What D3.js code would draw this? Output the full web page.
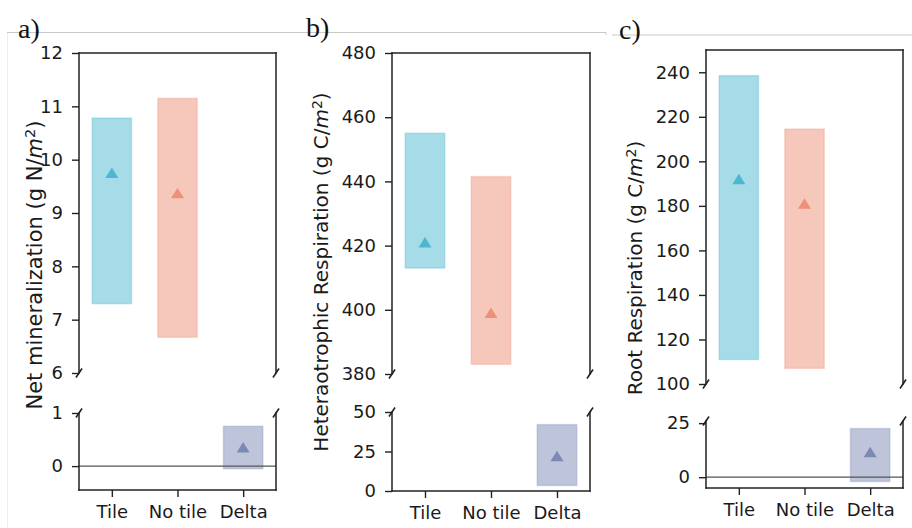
<!DOCTYPE html>
<html>
<head>
<meta charset="utf-8">
<script src="https://cdn.jsdelivr.net/npm/d3@7"></script>
<style>
    body { margin: 0; background: #fff; }
    svg { display: block; font-family: "DejaVu Sans", sans-serif; }
</style>
</head>
<body>
<svg id="chart" width="912" height="528"></svg>
<script>
const categories = ["Tile", "No tile", "Delta"];
const colors = ["#4db7d1", "#ed9179", "#7d89b5"];

// a) net mineralization
const minLow = [7.3, 6.67, -0.05];
const minHigh = [10.78, 11.15, 0.75];
const minMean = [9.75, 9.37, 0.35];
const minTopTicks = [6, 7, 8, 9, 10, 11, 12];
const minBottomTicks = [0, 1];

// b) heterotrophic respiration
const hetLow = [413, 383, 3.5];
const hetHigh = [455, 441.5, 42];
const hetMean = [421, 399, 22];
const hetTopTicks = [380, 400, 420, 440, 460, 480];
const hetBottomTicks = [0, 25, 50];

// c) root respiration
const rootLow = [111, 107, -2];
const rootHigh = [238.5, 214.5, 22.5];
const rootMean = [192, 181, 11.5];
const rootTopTicks = [100, 120, 140, 160, 180, 200, 220, 240];
const rootBottomTicks = [0, 25];

const panels = [
    { letter: "a)", letterX: 18, letterY: 38, left: 79, right: 276,
      top: [53, 373], topDomain: [6, 12], bottom: [413, 490], bottomDomain: [-0.45, 1],
      low: minLow, high: minHigh, mean: minMean, topTicks: minTopTicks, bottomTicks: minBottomTicks,
      label: ["Net mineralization (g N/", ")"], labelX: 42, labelY: 265, labelSize: 21, zero: true },
    { letter: "b)", letterX: 306, letterY: 37, left: 392, right: 590,
      top: [53, 374], topDomain: [380, 480], bottom: [412, 491], bottomDomain: [0, 50],
      low: hetLow, high: hetHigh, mean: hetMean, topTicks: hetTopTicks, bottomTicks: hetBottomTicks,
      label: ["Heteraotrophic Respiration (g C/", ")"], labelX: 328, labelY: 272, labelSize: 20, zero: false },
    { letter: "c)", letterX: 619, letterY: 39, left: 706, right: 903,
      top: [50, 384], topDomain: [100, 250], bottom: [421, 488], bottomDomain: [-5, 26],
      low: rootLow, high: rootHigh, mean: rootMean, topTicks: rootTopTicks, bottomTicks: rootBottomTicks,
      label: ["Root Respiration (g C/", ")"], labelX: 642, labelY: 268, labelSize: 20, zero: true }
];

const svg = d3.select("#chart");

// page decoration lines behind the panel letters
svg.append("line").attr("x1", 7).attr("x2", 606).attr("y1", 32.5).attr("y2", 32.5)
    .attr("stroke", "#c8c8c8").attr("stroke-width", 1);
svg.append("line").attr("x1", 606).attr("x2", 606).attr("y1", 32.5).attr("y2", 35)
    .attr("stroke", "#c8c8c8").attr("stroke-width", 1);
svg.append("line").attr("x1", 612).attr("x2", 912).attr("y1", 35).attr("y2", 35)
    .attr("stroke", "#c8c8c8").attr("stroke-width", 1);
svg.append("line").attr("x1", 7.5).attr("x2", 7.5).attr("y1", 33).attr("y2", 528)
    .attr("stroke", "#eeeeee").attr("stroke-width", 1);

const triangle = "M0,-5.5L6.5,5L-6.5,5Z";
const spine = "#222";

panels.forEach(p => {
    const g = svg.append("g");
    const x = d3.scaleLinear().domain([-0.5, 2.5]).range([p.left, p.right]);
    const yTop = d3.scaleLinear().domain(p.topDomain).range([p.top[1], p.top[0]]);
    const yBot = d3.scaleLinear().domain(p.bottomDomain).range([p.bottom[1], p.bottom[0]]);
    const barW = x(0.6) - x(0);

    // bars: Tile and No tile in upper part, Delta in lower part
    categories.forEach((c, i) => {
        const y = i < 2 ? yTop : yBot;
        g.append("rect")
            .attr("x", x(i - 0.3))
            .attr("width", barW)
            .attr("y", y(p.high[i]))
            .attr("height", y(p.low[i]) - y(p.high[i]))
            .attr("fill", colors[i])
            .attr("fill-opacity", 0.5)
            .attr("stroke", colors[i])
            .attr("stroke-opacity", 0.3)
            .attr("stroke-width", 1.5);
        g.append("path")
            .attr("d", triangle)
            .attr("transform", `translate(${x(i)},${y(p.mean[i])})`)
            .attr("fill", colors[i]);
    });

    if (p.zero) {
        g.append("line")
            .attr("x1", p.left).attr("x2", p.right)
            .attr("y1", yBot(0)).attr("y2", yBot(0))
            .attr("stroke", "#555").attr("stroke-width", 1.2);
    }

    // axes
    const axTop = g.append("g").attr("transform", `translate(${p.left},0)`)
        .call(d3.axisLeft(yTop).tickValues(p.topTicks).tickSize(7).tickPadding(9).tickFormat(d3.format("d")));
    const axBot = g.append("g").attr("transform", `translate(${p.left},0)`)
        .call(d3.axisLeft(yBot).tickValues(p.bottomTicks).tickSize(7).tickPadding(9).tickFormat(d3.format("d")));
    const axX = g.append("g").attr("transform", `translate(0,${p.bottom[1]})`)
        .call(d3.axisBottom(x).tickValues([0, 1, 2]).tickSize(7).tickPadding(8).tickFormat(i => categories[i]));

    [axTop, axBot, axX].forEach(a => {
        a.select(".domain").remove();
        a.selectAll(".tick line").attr("stroke", spine).attr("stroke-width", 1.4);
        a.selectAll(".tick text").attr("fill", "#1a1a1a")
            .style("font-size", "18px").style("font-family", "DejaVu Sans");
    });

    // spines
    const spines = [
        [p.left, p.top[0], p.right, p.top[0]],
        [p.left, p.top[0], p.left, p.top[1]],
        [p.right, p.top[0], p.right, p.top[1]],
        [p.left, p.bottom[0], p.left, p.bottom[1]],
        [p.right, p.bottom[0], p.right, p.bottom[1]],
        [p.left, p.bottom[1], p.right, p.bottom[1]]
    ];
    spines.forEach(s => {
        g.append("line").attr("x1", s[0]).attr("y1", s[1]).attr("x2", s[2]).attr("y2", s[3])
            .attr("stroke", spine).attr("stroke-width", 1.5).attr("stroke-linecap", "square");
    });

    // break marks
    [[p.left, p.top[1]], [p.right, p.top[1]], [p.left, p.bottom[0]], [p.right, p.bottom[0]]].forEach(b => {
        g.append("line")
            .attr("x1", b[0] - 3).attr("y1", b[1] + 4.5)
            .attr("x2", b[0] + 3).attr("y2", b[1] - 4.5)
            .attr("stroke", spine).attr("stroke-width", 1.6);
    });

    // y label
    const lab = g.append("text")
        .attr("transform", `translate(${p.labelX},${p.labelY}) rotate(-90)`)
        .attr("text-anchor", "middle")
        .attr("fill", "#1a1a1a")
        .style("font-size", p.labelSize + "px");
    lab.append("tspan").text(p.label[0]);
    lab.append("tspan").attr("font-style", "italic").text("m");
    lab.append("tspan").attr("dy", "-0.45em").style("font-size", "0.7em").text("2");
    lab.append("tspan").attr("dy", "0.32em").text(p.label[1]);

    // panel letter
    svg.append("text")
        .attr("x", p.letterX).attr("y", p.letterY)
        .attr("fill", "#111")
        .style("font-family", "Liberation Serif, serif")
        .style("font-size", "28px")
        .text(p.letter);
});
</script>
</body>
</html>
